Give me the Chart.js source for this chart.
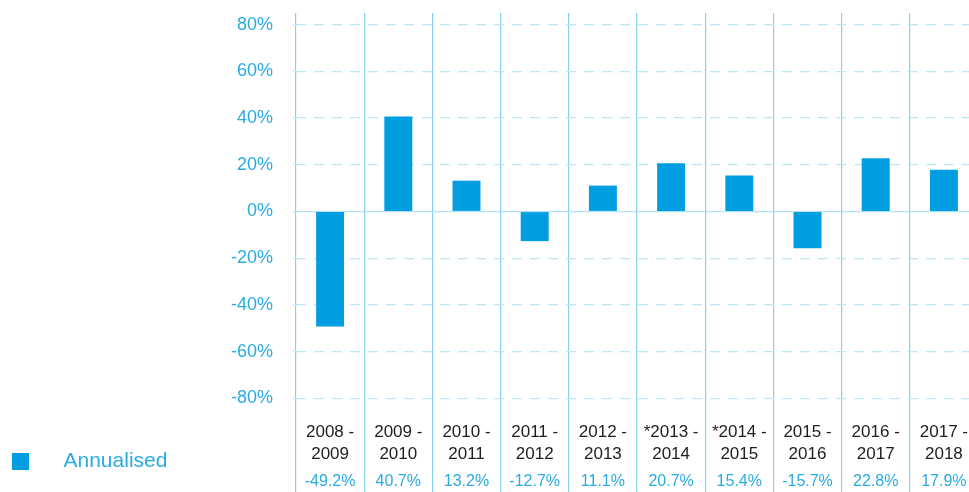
<!DOCTYPE html>
<html>
<head>
<meta charset="utf-8">
<script src="https://cdn.jsdelivr.net/npm/chart.js@4/dist/chart.umd.min.js"></script>
<style>
  html, body { margin: 0; padding: 0; background: #fff; overflow: hidden; }
  #wrap { position: relative; width: 990px; height: 492px; }
</style>
</head>
<body>
<div id="wrap"><canvas id="chart"></canvas></div>
<script>
// categories (two-line labels)
const periods = [
  ['2008 -', '2009'], ['2009 -', '2010'], ['2010 -', '2011'], ['2011 -', '2012'],
  ['2012 -', '2013'], ['*2013 -', '2014'], ['*2014 -', '2015'], ['2015 -', '2016'],
  ['2016 -', '2017'], ['2017 -', '2018']
];
// annualised returns, %
const annualised = [-49.2, 40.7, 13.2, -12.7, 11.1, 20.7, 15.4, -15.7, 22.8, 17.9];
// y axis ticks
const yTicks = [-80, -60, -40, -20, 0, 20, 40, 60, 80];
const seriesName = 'Annualised';

const valueLabels = annualised.map(v => v.toFixed(1) + '%');

const BLUE = '#009EE0';
const TEXT_BLUE = '#2AABE2';
const FONT = "'Liberation Sans', Arial, sans-serif";

// legend marker: square on the left of a wider transparent image
const marker = document.createElement('canvas');
marker.width = 49;
marker.height = 17;
const mctx = marker.getContext('2d');
mctx.fillStyle = BLUE;
mctx.fillRect(0, 0, 17, 17);

new Chart(document.getElementById('chart'), {
  type: 'bar',
  data: {
    labels: periods,
    datasets: [{
      label: seriesName,
      data: annualised,
      backgroundColor: BLUE,
      borderWidth: 0,
      categoryPercentage: 1,
      barPercentage: 0.41,
      xAxisID: 'x',
      yAxisID: 'y'
    }]
  },
  options: {
    responsive: true,
    maintainAspectRatio: false,
    animation: false,
    layout: { padding: { top: 13, left: 0, right: 12, bottom: 0 } },
    plugins: {
      tooltip: { enabled: false },
      legend: {
        position: 'left',
        align: 'end',
        labels: {
          usePointStyle: true,
          pointStyle: marker,
          pointStyleWidth: 33,
          color: TEXT_BLUE,
          padding: 20,
          font: { family: FONT, size: 21 }
        }
      }
    },
    scales: {
      x: {
        type: 'category',
        position: 'bottom',
        weight: 1,
        offset: true,
        grid: {
          offset: true,
          color: '#86CFEF',
          lineWidth: 1.2,
          drawTicks: true,
          tickLength: 90,
          tickColor: '#86CFEF'
        },
        border: { display: false },
        ticks: {
          color: '#1E1E1E',
          padding: -79,
          autoSkip: false,
          maxRotation: 0,
          font: { family: FONT, size: 17, lineHeight: 1.3 }
        },
        afterFit: scale => { scale.height = 55; }
      },
      x2: {
        type: 'category',
        position: 'bottom',
        weight: 2,
        labels: valueLabels,
        offset: true,
        grid: { display: false, drawTicks: false },
        border: { display: false },
        ticks: {
          color: TEXT_BLUE,
          padding: 7,
          autoSkip: false,
          maxRotation: 0,
          font: { family: FONT, size: 16 }
        },
        afterFit: scale => { scale.height = 27; }
      },
      y: {
        min: -85,
        max: 85,
        afterBuildTicks: scale => { scale.ticks = yTicks.map(v => ({ value: v })); },
        afterFit: scale => {
          const lg = scale.chart.legend;
          scale.width = 296 - (lg ? lg.width : 0);
          scale.paddingTop = 0;
          scale.paddingBottom = 0;
        },
        grid: {
          color: ctx => (ctx.tick && ctx.tick.value === 0) ? '#B5E1F5' : '#BFE5F7',
          lineWidth: 1.2,
          drawTicks: true,
          tickLength: 3
        },
        border: {
          display: false,
          dash: ctx => (ctx.tick && ctx.tick.value === 0) ? [] : [10, 8]
        },
        ticks: {
          color: TEXT_BLUE,
          padding: 20,
          callback: v => v + '%',
          font: { family: FONT, size: 18 }
        }
      }
    }
  }
});
</script>
</body>
</html>
